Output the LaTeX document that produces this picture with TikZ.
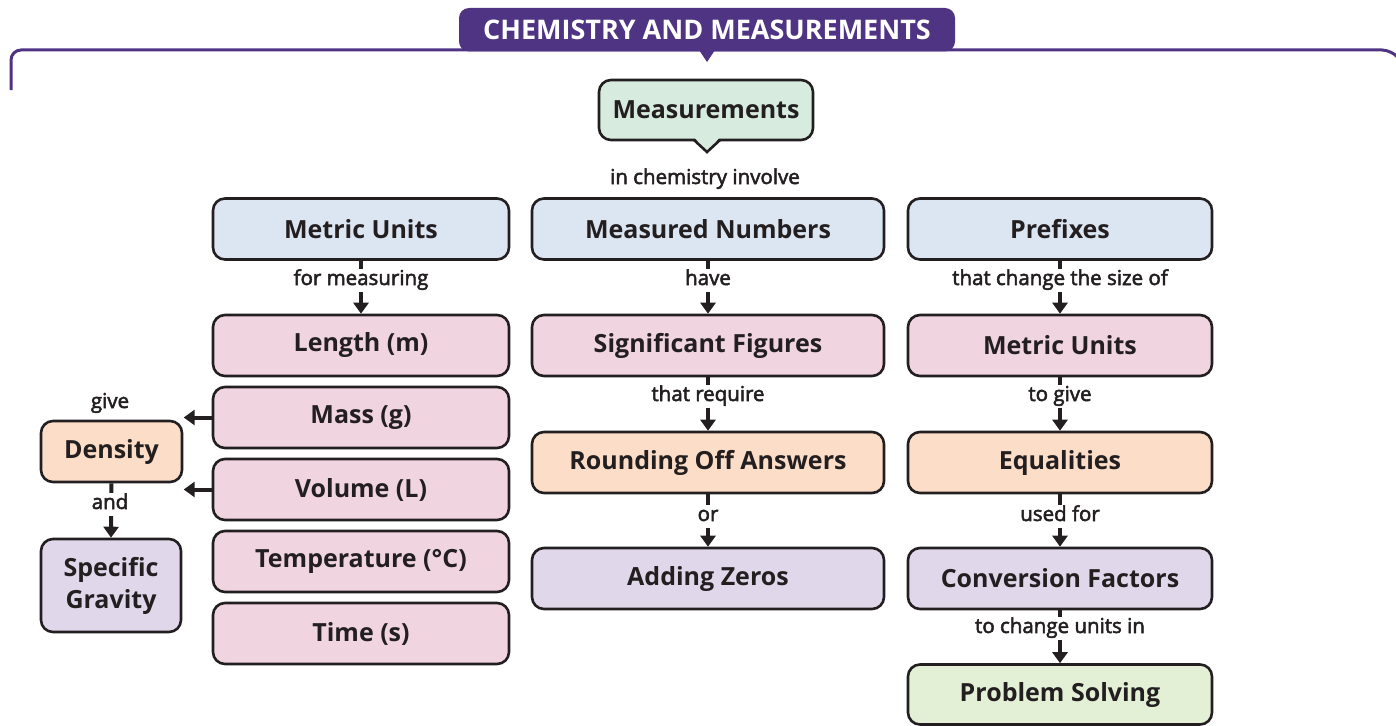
\documentclass[tikz,border=0pt]{standalone}
\usepackage{fontspec}
\setmainfont{Open Sans}
\newfontfamily\lblfont{Open Sans}[BoldFont={Open Sans}, BoldFeatures={FakeBold=2.5}]
\usetikzlibrary{arrows.meta}
\definecolor{ink}{HTML}{231F20}
\definecolor{tabpurple}{HTML}{4F3483}
\definecolor{cblue}{HTML}{DCE5F2}
\definecolor{cpink}{HTML}{F0D4E0}
\definecolor{corange}{HTML}{FCDDC7}
\definecolor{clav}{HTML}{E1D7EB}
\definecolor{cmint}{HTML}{D7EBDF}
\definecolor{cgreen}{HTML}{E3F0D6}
\tikzset{
  box/.style={draw=ink, line width=2.6pt, rounded corners=12pt, align=center,
    inner sep=0pt, font=\fontsize{25}{32}\selectfont\bfseries, text=ink},
  wbox/.style={box, minimum width=296pt, minimum height=61pt},
  mbox/.style={box, minimum width=352pt, minimum height=61pt},
  rbox/.style={box, minimum width=304pt, minimum height=61pt},
  lbl/.style={font=\lblfont\bfseries\fontsize{20.5}{24}\selectfont, text=ink, inner xsep=3pt, inner ysep=1.5pt,
    fill=white, text height=15pt, text depth=5pt},
  arr/.style={draw=ink, line width=4pt, -{Triangle[width=15pt,length=11pt]}},
}
\begin{document}
\begin{tikzpicture}[x=1pt,y=-1pt]
\useasboundingbox (0,0) rectangle (1396,725);
% frame line and title tab
\draw[tabpurple, line width=3pt, rounded corners=10pt] (11,90) -- (11,50) -- (1392,50) -- (1396,55);
\fill[tabpurple, rounded corners=10pt] (459,51.5) -- (459,8) -- (955,8) -- (955,51.5) -- cycle;
\fill[tabpurple] (699,50) -- (715,50) -- (707,62) -- cycle;
\node[text=white, font=\fontsize{27}{30}\selectfont\bfseries, inner sep=0pt] (title) at (707,30) {CHEMISTRY AND MEASUREMENTS};

% Measurements speech box
\node[box, fill=cmint, minimum width=214pt, minimum height=60pt] (meas) at (706,110) {Measurements};
\filldraw[fill=cmint, draw=none] (694,137) -- (720,137) -- (707,152) -- cycle;
\draw[ink, line width=2.6pt, line join=miter] (694,140) -- (707,152) -- (720,140);
\node[lbl, fill=none] (linv) at (705,179) {in chemistry involve};

% Row 1
\node[wbox, fill=cblue] (mu) at (361,229) {Metric Units};
\node[mbox, fill=cblue] (mn) at (708,229) {Measured Numbers};
\node[rbox, fill=cblue] (pre) at (1060,229) {Prefixes};

% Row 2
\node[wbox, fill=cpink] (len) at (361,345.5) {Length (m)};
\node[mbox, fill=cpink] (sf) at (708,345.5) {Significant Figures};
\node[rbox, fill=cpink] (mu2) at (1060,345.5) {Metric Units};

% left column
\node[wbox, fill=cpink] (mass) at (361,417.5) {Mass (g)};
\node[wbox, fill=cpink] (vol) at (361,489.5) {Volume (L)};
\node[wbox, fill=cpink] (temp) at (361,561.5) {Temperature (°C)};
\node[wbox, fill=cpink] (time) at (361,633.5) {Time (s)};

% Row 3
\node[mbox, fill=corange] (round) at (708,462.5) {Rounding Off Answers};
\node[rbox, fill=corange] (eq) at (1060,462.5) {Equalities};

% Row 4
\node[mbox, fill=clav] (zero) at (708,578.5) {Adding Zeros};
\node[rbox, fill=clav] (conv) at (1060,578.5) {Conversion Factors};

\node[rbox, fill=cgreen, minimum height=60pt] (ps) at (1060,694.5) {Problem Solving};

% Density / Specific gravity
\node[box, fill=corange, minimum width=141pt, minimum height=61pt] (dens) at (111.5,451.5) {Density};
\node[box, fill=clav, minimum width=140pt, minimum height=93pt] (sg) at (111,585.5) {Specific\\Gravity};

% connectors
\foreach \a/\b in {mu/len, mn/sf, pre/mu2, sf/round, mu2/eq, round/zero, eq/conv, conv/ps, dens/sg}{
  \draw[arr] (\a.south) -- (\b.north);
}
\draw[arr] (mass.west) -- ([xshift=-28pt]mass.west);
\draw[arr] (vol.west) -- ([xshift=-28pt]vol.west);

% connector labels
\node[lbl] (l1) at (361,280) {for measuring};
\node[lbl] (l2) at (708,280) {have};
\node[lbl] (l3) at (1060,280) {that change the size of};
\node[lbl] (l4) at (708,396) {that require};
\node[lbl] (l5) at (1060,396) {to give};
\node[lbl] (l6) at (708,516) {or};
\node[lbl] (l7) at (1060,516) {used for};
\node[lbl] (l8) at (1060,628) {to change units in};
\node[lbl, fill=none] (lgive) at (110,403) {give};
\node[lbl] (land) at (110,504) {and};
\end{tikzpicture}
\end{document}
